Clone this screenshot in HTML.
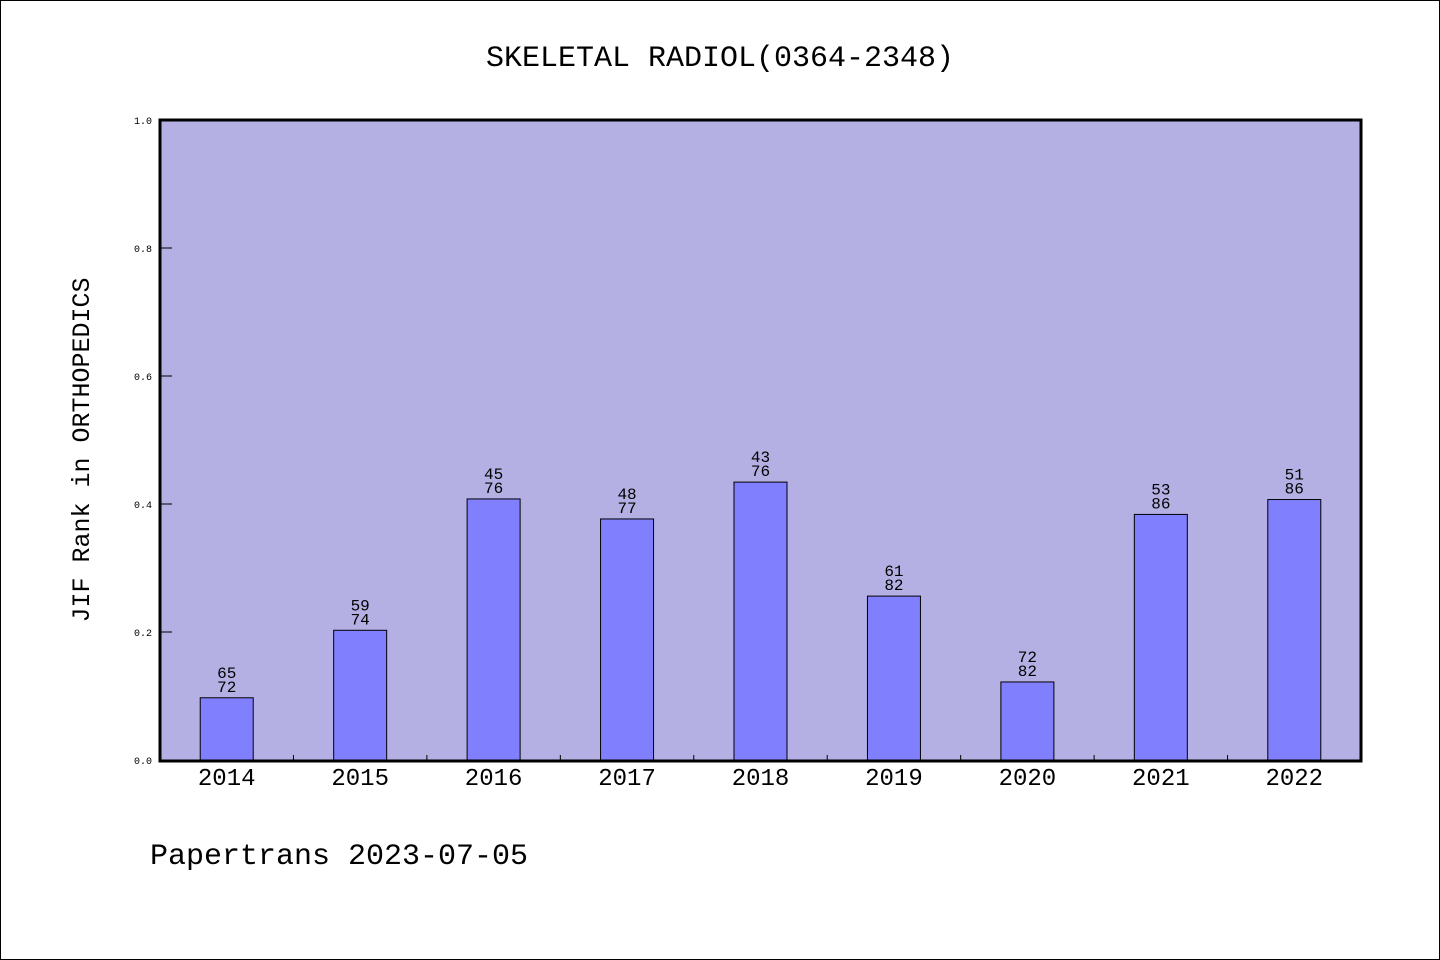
<!DOCTYPE html>
<html><head><meta charset="utf-8"><style>
html,body{margin:0;padding:0;background:#fff}
svg{display:block;font-family:"WenQuanYi Zen Hei Mono","WenQuanYi Zen Hei","Liberation Mono",monospace}
</style></head><body>
<svg id="chart" width="1440" height="960" viewBox="0 0 1440 960">
<rect x="0.5" y="0.5" width="1439" height="959" fill="#fff" stroke="#000" stroke-width="1"/>
<text x="720" y="66" text-anchor="middle" font-size="30">SKELETAL RADIOL(0364-2348)</text>
<rect x="160" y="120" width="1201" height="641" fill="#b5b0e3"/>
<g id="marks"></g>
<rect x="160" y="120" width="1201" height="641" fill="none" stroke="#000" stroke-width="3"/>
<text transform="translate(89,450) rotate(-90)" text-anchor="middle" font-size="25">JIF Rank in ORTHOPEDICS</text>
<text x="150" y="864" font-size="30">Papertrans 2023-07-05</text>
</svg>
<script>
const years = ["2014","2015","2016","2017","2018","2019","2020","2021","2022"];
const ranks = [65,59,45,48,43,61,72,53,51];
const totals = [72,74,76,77,76,82,82,86,86];
const yTicks = ["0.0","0.2","0.4","0.6","0.8","1.0"];
const NS="http://www.w3.org/2000/svg";
const g=document.getElementById('marks');
const x0=160,x1=1361,yb=760,yt=120;
const step=(x1-x0)/years.length;
const xc=i=>x0+step*(i+0.5);
const y=v=>yb-(yb-yt)*v;
function mk(t,a){const e=document.createElementNS(NS,t);for(const k in a)e.setAttribute(k,a[k]);g.appendChild(e);return e;}
yTicks.forEach(t=>{
  const v=parseFloat(t);
  const l=mk('line',{x1:160,x2:172,y1:y(v),y2:y(v),stroke:'#000','stroke-width':1});
  
  
  const tx=mk('text',{x:152,y:y(v)+4,'text-anchor':'end','font-size':10});
  tx.textContent=t;
  
  
});
years.forEach((yr,i)=>{
  if(i>0){
    const bx=x0+step*i;
    const l=mk('line',{x1:bx,x2:bx,y1:755,y2:760,stroke:'#000','stroke-width':1});
    
    
  }
  const v=1-ranks[i]/totals[i];
  const r=mk('rect',{x:xc(i)-26.5,y:y(v),width:53,height:yb-y(v),fill:'#8080ff',stroke:'#000','stroke-width':1});
  
  
  const t1=mk('text',{x:xc(i),y:y(v)-20,'text-anchor':'middle','font-size':16});
  t1.textContent=ranks[i];
  
  
  const t2=mk('text',{x:xc(i),y:y(v)-6,'text-anchor':'middle','font-size':16});
  t2.textContent=totals[i];
  
  
  const xl=mk('text',{x:xc(i),y:785,'text-anchor':'middle','font-size':24});
  xl.textContent=yr;
  
  
});
</script>
</body></html>
